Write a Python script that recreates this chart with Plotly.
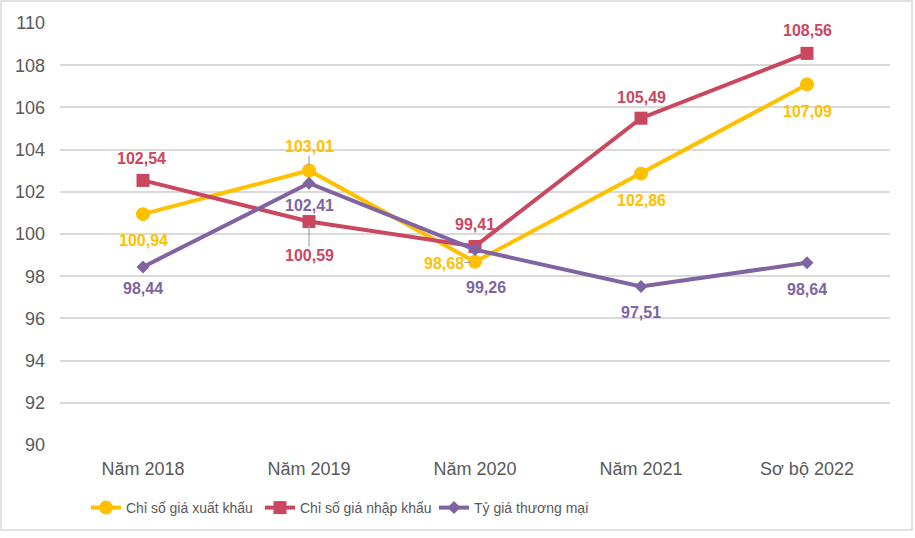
import plotly.graph_objects as go

categories = ["Năm 2018", "Năm 2019", "Năm 2020", "Năm 2021", "Sơ bộ 2022"]
export_idx = [100.94, 103.01, 98.68, 102.86, 107.09]
import_idx = [102.54, 100.59, 99.41, 105.49, 108.56]
trade_idx = [98.44, 102.41, 99.26, 97.51, 98.64]
y_ticks = [90, 92, 94, 96, 98, 100, 102, 104, 106, 108, 110]

names = ["Chỉ số giá xuất khẩu", "Chỉ số giá nhập khẩu", "Tỷ giá thương mại"]
colors = ["#FFC000", "#C9475F", "#8064A2"]
symbols = ["circle", "square", "diamond"]
msizes = [14, 13, 10]
series = [export_idx, import_idx, trade_idx]

FONT = "Liberation Sans, Arial, sans-serif"

fig = go.Figure()
for name, col, sym, ms, vals in zip(names, colors, symbols, msizes, series):
    fig.add_trace(go.Scatter(
        x=categories, y=vals, name=name, mode="lines+markers",
        line=dict(color=col, width=4),
        marker=dict(symbol=sym, size=ms, color=col),
    ))

def fmt(v):
    return f"{v:.2f}".replace(".", ",")

# (xshift, yshift) in px; positive yshift = up
shifts = [
    [(0, -26), None, None, (0, -27), (0, -27)],
    [(-2, 22), None, (0, 22), (0, 21), (0, 23)],
    [(0, -22), (0, -22), (11, -38), (0, -26), (0, -27)],
]
# leader-line labels: (ax, ay) text offset from point in px
arrows = {
    (0, 1): (0, -24),
    (1, 1): (0, 34),
    (0, 2): (-31, 2),
}

annotations = []
for si, vals in enumerate(series):
    for ci, v in enumerate(vals):
        txt = f"<b>{fmt(v)}</b>"
        font = dict(family=FONT, size=16, color=colors[si])
        if (si, ci) in arrows:
            ax, ay = arrows[(si, ci)]
            annotations.append(dict(
                x=categories[ci], y=v, text=txt, showarrow=True, arrowhead=0,
                arrowwidth=1.2, arrowcolor="#A6A6A6", ax=ax, ay=ay, standoff=4,
                font=font, borderpad=0))
        else:
            xs, ys = shifts[si][ci]
            annotations.append(dict(
                x=categories[ci], y=v, text=txt, showarrow=False,
                xshift=xs, yshift=ys, font=font))

L, R, T, B = 60, 25, 23, 93
W, H = 915, 538
pw, ph = W - L - R, H - T - B

def px_x(p):
    return (p - L) / pw

def px_y(p):
    return (H - B - p) / ph

fig.update_layout(
    width=W, height=H,
    margin=dict(l=L, r=R, t=T, b=B),
    paper_bgcolor="white", plot_bgcolor="white",
    font=dict(family=FONT, size=18, color="#595959"),
    annotations=annotations,
    showlegend=True,
    legend=dict(orientation="h", x=px_x(86), xanchor="left", y=px_y(508),
                yanchor="middle", font=dict(family=FONT, size=14, color="#595959"),
                itemwidth=30, tracegroupgap=0, entrywidth=129,
                entrywidthmode="pixels"),
    xaxis=dict(showgrid=False, showline=False, zeroline=False, range=[-0.5, 4.5],
               ticks="", ticklabelstandoff=11, fixedrange=True),
    yaxis=dict(range=[90, 110], tickvals=y_ticks, showgrid=True,
               gridcolor="#D9D9D9", gridwidth=1.5, zeroline=False,
               showline=False, ticks="", ticklabelstandoff=14, fixedrange=True),
    shapes=[dict(type="rect", xref="paper", yref="paper",
                 x0=px_x(1), x1=px_x(912), y0=px_y(1), y1=px_y(530),
                 line=dict(color="#D9D9D9", width=1.5), layer="below")],
)

fig.write_html("out.html")
